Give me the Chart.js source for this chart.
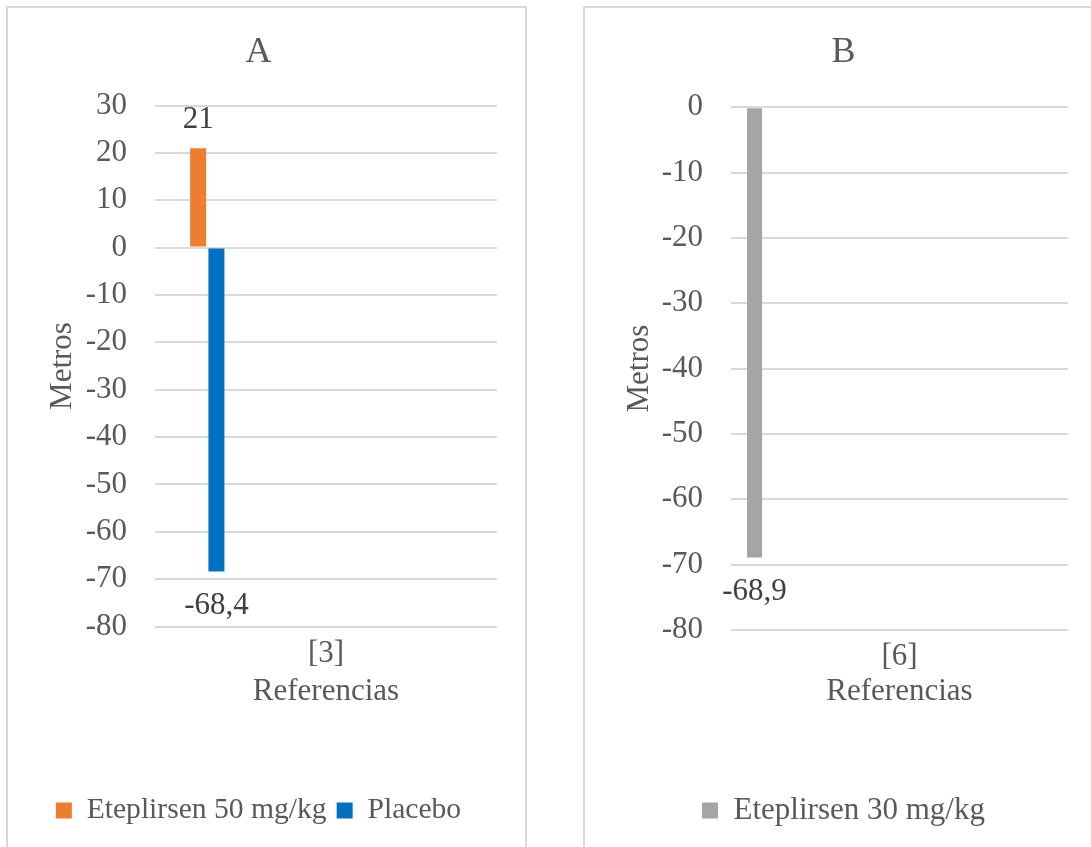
<!DOCTYPE html>
<html>
<head>
<meta charset="utf-8">
<script src="https://cdn.jsdelivr.net/npm/chart.js@4/dist/chart.umd.min.js"></script>
<style>
  html, body { margin: 0; padding: 0; background: #ffffff; width: 1091px; height: 847px; overflow: hidden; }
  .frame { position: absolute; box-sizing: border-box; border: 2px solid #d9d9d9; background: transparent; }
  canvas { position: absolute; }
</style>
</head>
<body>
<div class="frame" style="left:6px; top:6px; width:521px; height:900px;"></div>
<div class="frame" style="left:583px; top:6px; width:521px; height:900px;"></div>
<canvas id="chartA" width="521" height="841" style="left:6px; top:6px;"></canvas>
<canvas id="chartB" width="521" height="841" style="left:583px; top:6px;"></canvas>
<script>
// ---- Data ----
const categoriesA = ['[3]'];
const eteplirsen50 = [21];
const placebo = [-68.4];
const seriesNamesA = ['Eteplirsen 50 mg/kg', 'Placebo'];
const yTicksA = [-80, 30, 10];   // min, max, step

const categoriesB = ['[6]'];
const eteplirsen30 = [-68.9];
const seriesNamesB = ['Eteplirsen 30 mg/kg'];
const yTicksB = [-80, 0, 10];    // min, max, step

const titleA = 'A';
const titleB = 'B';
const yTitle = 'Metros';
const xTitle = 'Referencias';

// ---- Styling ----
const FONT = 'Liberation Serif';
const TEXT = '#595959';
const GRID = '#d9d9d9';
Chart.defaults.font.family = FONT;
Chart.defaults.color = TEXT;

const valueLabels = {
  id: 'valueLabels',
  afterDatasetsDraw(chart) {
    const ctx = chart.ctx;
    ctx.save();
    ctx.font = '31px "' + FONT + '"';
    ctx.fillStyle = '#404040';
    ctx.textAlign = 'center';
    ctx.textBaseline = 'middle';
    chart.data.datasets.forEach((ds, i) => {
      if (!ds.label) return;
      const meta = chart.getDatasetMeta(i);
      meta.data.forEach((bar, j) => {
        const v = ds.data[j];
        if (v == null) return;
        const text = String(v).replace('.', ',');
        const y = v >= 0 ? bar.y - 28 : bar.y + 34.5;
        ctx.fillText(text, bar.x, y);
      });
    });
    ctx.restore();
  }
};

function emptySlots(n, len) {
  const out = [];
  for (let i = 0; i < n; i++) out.push({ label: '', data: new Array(len).fill(null), backgroundColor: 'rgba(0,0,0,0)' });
  return out;
}

function makeChart(id, cfg) {
  return new Chart(document.getElementById(id), {
    type: 'bar',
    data: { labels: cfg.labels, datasets: cfg.datasets },
    plugins: [valueLabels],
    options: {
      responsive: false,
      animation: false,
      devicePixelRatio: 1,
      layout: { padding: { left: 0, right: cfg.layoutRight, top: 0, bottom: cfg.bottomPad } },
      datasets: { bar: { categoryPercentage: cfg.catPct, barPercentage: cfg.barPct, borderWidth: 0 } },
      plugins: {
        tooltip: { enabled: false },
        title: {
          display: true, text: cfg.title, color: TEXT,
          font: { family: FONT, size: 36, weight: 'normal' },
          padding: { top: 24.9, bottom: cfg.titleBottom }
        },
        legend: {
          position: 'bottom',
          labels: {
            font: { family: FONT, size: cfg.legendSize }, color: TEXT,
            boxWidth: 16, boxHeight: 16, padding: 10,
            filter: (item) => item.text !== ''
          }
        }
      },
      scales: {
        x: {
          type: 'category',
          grid: { display: false, drawTicks: false },
          border: { display: false },
          ticks: { font: { family: FONT, size: 31 }, color: TEXT, padding: cfg.xTickPad, maxRotation: 0 },
          title: { display: true, text: xTitle, color: TEXT, font: { family: FONT, size: 31 }, padding: { top: 0, bottom: cfg.xTitleBottom } },
          afterFit: (s) => { s.height = cfg.xHeight; }
        },
        y: {
          position: 'left',
          min: cfg.yTicks[0], max: cfg.yTicks[1],
          grid: { color: GRID, lineWidth: 2, drawTicks: false },
          border: { display: false },
          ticks: { stepSize: cfg.yTicks[2], font: { family: FONT, size: 31 }, color: TEXT, padding: 28, callback: (v) => String(v) },
          title: { display: true, text: yTitle, color: TEXT, font: { family: FONT, size: 31 }, padding: { top: 38, bottom: 0 } },
          afterFit: (s) => { s.width = cfg.yWidth; }
        },
        pad: {
          type: 'linear', position: 'right', display: true,
          grid: { display: false, drawTicks: false },
          border: { display: false },
          ticks: { display: false },
          afterFit: (s) => { s.width = cfg.rightPad; }
        }
      }
    }
  });
}

makeChart('chartA', {
  title: titleA,
  labels: categoriesA,
  datasets: [
    { label: seriesNamesA[0], data: eteplirsen50, backgroundColor: '#ED7D31' },
    { label: seriesNamesA[1], data: placebo, backgroundColor: '#0070C0' }
  ].concat(emptySlots(13, categoriesA.length)),
  catPct: 0.801, barPct: 0.876,
  yTicks: yTicksA, yWidth: 149, rightPad: 14, layoutRight: 16,
  legendSize: 29.6, bottomPad: 11.7,
  titleBottom: 31.4, xHeight: 159.2, xTickPad: 9, xTitleBottom: 75.7
});

makeChart('chartB', {
  title: titleB,
  labels: categoriesB,
  datasets: [
    { label: seriesNamesB[0], data: eteplirsen30, backgroundColor: '#A5A5A5' }
  ].concat(emptySlots(16, categoriesB.length)),
  catPct: 0.914, barPct: 0.83,
  yTicks: yTicksB, yWidth: 148, rightPad: 36, layoutRight: 0,
  legendSize: 31, bottomPad: 11,
  titleBottom: 33.2, xHeight: 155.1, xTickPad: 8.5, xTitleBottom: 75
});
</script>
</body>
</html>
